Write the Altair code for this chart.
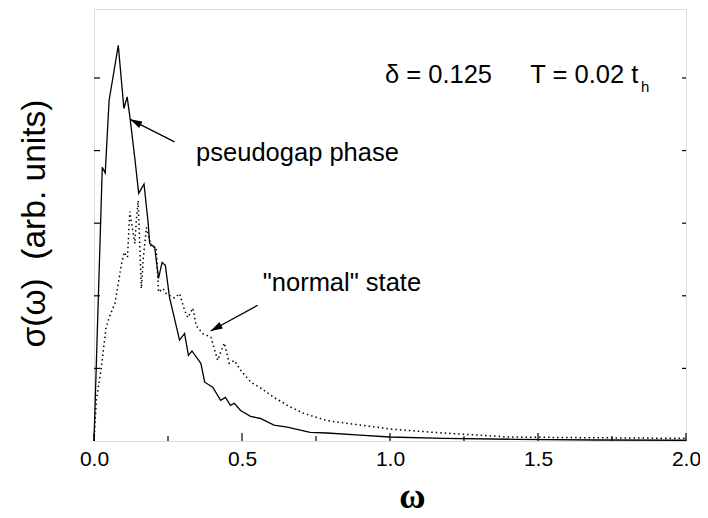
import math
import altair as alt
import pandas as pd

# ---- data ----
solid_w = [0.0, 0.028, 0.038, 0.051, 0.082, 0.101, 0.112, 0.122, 0.138, 0.151, 0.169, 0.183,
           0.188, 0.205, 0.218, 0.230, 0.241, 0.255, 0.289, 0.306, 0.319, 0.331, 0.361, 0.374,
           0.401, 0.428, 0.444, 0.461, 0.474, 0.495, 0.529, 0.562, 0.608, 0.653, 0.730, 0.788,
           0.898, 0.999, 1.181, 1.426, 1.70, 2.0]
solid_s = [0.0, 3.77, 3.69, 4.69, 5.45, 4.58, 4.74, 4.44, 3.89, 3.41, 3.54, 3.00,
           2.72, 2.67, 2.24, 2.46, 2.42, 1.98, 1.39, 1.48, 1.18, 1.24, 1.07, 0.81,
           0.74, 0.56, 0.60, 0.49, 0.52, 0.42, 0.34, 0.31, 0.22, 0.19, 0.12, 0.11,
           0.08, 0.055, 0.037, 0.023, 0.014, 0.01]

dot_w = [0.0, 0.008, 0.025, 0.041, 0.054, 0.071, 0.092, 0.102, 0.113, 0.121, 0.132, 0.138,
         0.143, 0.149, 0.160, 0.166, 0.177, 0.194, 0.210, 0.218, 0.233, 0.244, 0.272, 0.289,
         0.306, 0.317, 0.334, 0.345, 0.367, 0.395, 0.418, 0.440, 0.457, 0.474, 0.496, 0.530,
         0.563, 0.608, 0.642, 0.653, 0.709, 0.788, 0.898, 1.012, 1.180, 1.403, 1.70, 2.0]
dot_s = [0.0, 0.56, 1.02, 1.57, 1.73, 1.90, 2.42, 2.60, 2.53, 3.16, 2.87, 2.72,
         3.04, 3.31, 2.10, 2.49, 2.94, 2.67, 2.67, 2.05, 2.10, 2.03, 1.97, 2.03,
         1.80, 1.70, 1.83, 1.59, 1.48, 1.43, 1.11, 1.35, 1.07, 1.11, 0.97, 0.81,
         0.73, 0.60, 0.52, 0.49, 0.38, 0.28, 0.22, 0.16, 0.11, 0.055, 0.044, 0.037]

x_major = [0.0, 0.5, 1.0, 1.5, 2.0]
x_minor = [0.25, 0.75, 1.25, 1.75]
y_ticks = [1, 2, 3, 4, 5]

labels_text = ["pseudogap phase", "\"normal\" state", "δ = 0.125", "T = 0.02 t"]
labels_x = [0.345, 0.570, 0.983, 1.474]
labels_y = [3.86, 2.06, 4.93, 4.93]
sub_text = ["h"]
sub_x = [1.848]
sub_y = [4.81]

arrow_x = [0.272, 0.553]
arrow_y = [4.12, 1.87]
arrow_x2 = [0.122, 0.394]
arrow_y2 = [4.43, 1.515]

# ---- layout ----
W, H = 592, 432
YMAX = 5.95
PXX = W / 2.0
PXY = H / YMAX
FONT = "Liberation Sans"

xscale = alt.Scale(domain=[0, 2], nice=False, zero=False)
yscale = alt.Scale(domain=[0, YMAX], nice=False, zero=False)

x_axis = alt.Axis(title="ω", values=x_major, format=".1f", labelFont=FONT, labelFontSize=21,
                  labelColor="black", labelPadding=7, labelFlush=False, ticks=False,
                  domain=False, grid=False, titleFont="Liberation Serif", titleFontSize=36,
                  titleFontWeight="bold", titleColor="black", titleX=318, titleY=66,
                  titleBaseline="alphabetic", titleAlign="center")
y_axis = alt.Axis(title="σ(ω)\u00a0\u00a0(arb. units)", labels=False, ticks=False,
                  domain=False, grid=False,
                  titleFont=FONT, titleFontSize=33.5, titleFontWeight="normal",
                  titleColor="black", titleX=-50, titleY=214, titleAngle=270,
                  titleBaseline="alphabetic", titleAlign="center")


def X(f):
    return alt.X(f, scale=xscale, axis=x_axis)


def Y(f):
    return alt.Y(f, scale=yscale, axis=y_axis)


solid = alt.Chart(pd.DataFrame({"w": solid_w, "s": solid_s})).mark_line(
    color="black", strokeWidth=1.3).encode(x=X("w:Q"), y=Y("s:Q"))

dotted = alt.Chart(pd.DataFrame({"w": dot_w, "s": dot_s})).mark_line(
    color="black", strokeWidth=1.5, strokeDash=[1.5, 3]).encode(x=X("w:Q"), y=Y("s:Q"))

xmaj = alt.Chart(pd.DataFrame({"t": x_major})).mark_rule(color="black", strokeWidth=1.2).encode(
    x=X("t:Q"), y=alt.value(H), y2=alt.value(H - 8))
xmin = alt.Chart(pd.DataFrame({"t": x_minor})).mark_rule(color="black", strokeWidth=1.2).encode(
    x=X("t:Q"), y=alt.value(H), y2=alt.value(H - 5))
yl = alt.Chart(pd.DataFrame({"t": y_ticks})).mark_rule(color="black", strokeWidth=1.2).encode(
    y=Y("t:Q"), x=alt.value(0), x2=alt.value(6))
yr = alt.Chart(pd.DataFrame({"t": y_ticks})).mark_rule(color="black", strokeWidth=1.2).encode(
    y=Y("t:Q"), x=alt.value(W), x2=alt.value(W - 4))

texts = alt.Chart(pd.DataFrame({"x": labels_x, "y": labels_y, "t": labels_text})).mark_text(
    align="left", baseline="alphabetic", font=FONT, fontSize=25.5, color="black").encode(
    x=X("x:Q"), y=Y("y:Q"), text="t:N")
subs = alt.Chart(pd.DataFrame({"x": sub_x, "y": sub_y, "t": sub_text})).mark_text(
    align="left", baseline="alphabetic", font=FONT, fontSize=15, color="black").encode(
    x=X("x:Q"), y=Y("y:Q"), text="t:N")

angles = []
for x1, y1, x2, y2 in zip(arrow_x, arrow_y, arrow_x2, arrow_y2):
    dx = (x2 - x1) * PXX
    dy = -(y2 - y1) * PXY
    angles.append((math.degrees(math.atan2(dx, -dy)) + 360) % 360)

arr_df = pd.DataFrame({"x": arrow_x, "y": arrow_y, "x2": arrow_x2, "y2": arrow_y2, "a": angles})
shafts = alt.Chart(arr_df).mark_rule(color="black", strokeWidth=1.3).encode(
    x=X("x:Q"), y=Y("y:Q"), x2="x2:Q", y2="y2:Q")
heads = alt.Chart(arr_df).mark_point(
    shape="M0,0 L-0.6,2 L0.6,2 Z", filled=True, size=144, color="black", opacity=1,
    strokeWidth=0).encode(
    x=X("x2:Q"), y=Y("y2:Q"), angle=alt.Angle("a:Q", scale=None))

chart = alt.layer(solid, dotted, xmaj, xmin, yl, yr, texts, subs, shafts, heads).properties(
    width=W, height=H,
    padding={"left": 86, "top": 1, "right": 14, "bottom": 76},
    autosize=alt.AutoSizeParams(type="none"),
).configure_view(stroke="black", strokeWidth=2).configure(background="white")

chart.save("out.html", embed_options={"renderer": "svg", "actions": False})
